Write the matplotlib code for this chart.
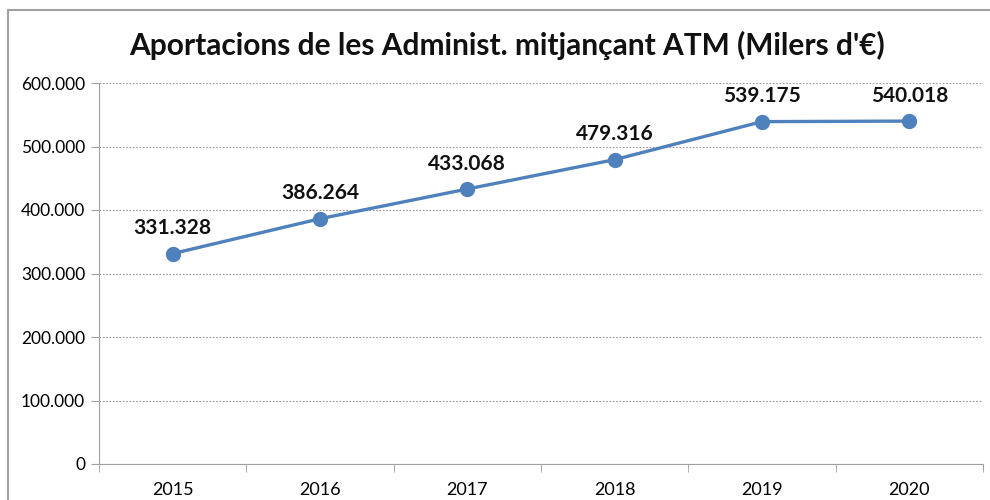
import matplotlib
matplotlib.use("Agg")
import matplotlib.pyplot as plt
from matplotlib.patches import Rectangle
from matplotlib.ticker import FuncFormatter

years = ["2015", "2016", "2017", "2018", "2019", "2020"]
values = [331328, 386264, 433068, 479316, 539175, 540018]
labels = ["331.328", "386.264", "433.068", "479.316", "539.175", "540.018"]
yticks = [0, 100000, 200000, 300000, 400000, 500000, 600000]
title = "Aportacions de les Administ. mitjançant ATM (Milers d'€)"

plt.rcParams['font.family'] = ['Lato', 'DejaVu Sans']

fig = plt.figure(figsize=(9.9, 5.0), dpi=100)
fig.patch.set_facecolor("white")
# outer chart frame
fig.patches.append(Rectangle((8/990, -0.2), 1.2, 1.2 - 10/500,
                             transform=fig.transFigure, fill=False,
                             edgecolor="#a0a0a0", linewidth=1.5))

ax = fig.add_axes([99/990, 1 - 464/500, (983 - 99)/990, (464 - 83)/500])
x = list(range(len(years)))
ax.plot(x, values, color="#4F81BD", linewidth=2.4, marker="o",
        markersize=10, markerfacecolor="#4F81BD", markeredgecolor="#4F81BD",
        zorder=3, clip_on=False)
for xi, v, lab in zip(x, values, labels):
    ax.annotate(lab, (xi, v), xytext=(0, 11), textcoords="offset points",
                ha="center", va="bottom", fontsize=15, fontweight="bold",
                color="#111111")

ax.set_xlim(-0.5, len(years) - 0.5)
ax.set_ylim(0, 600000)
ax.set_yticks(yticks)
ax.yaxis.set_major_formatter(FuncFormatter(
    lambda v, p: "0" if v == 0 else f"{int(v):,}".replace(",", ".")))
ax.set_xticks(x)
ax.set_xticklabels(years)
ax.set_xticks([i - 0.5 for i in range(len(years) + 1)], minor=True)
ax.tick_params(axis="x", which="major", length=0, pad=13, labelsize=13)
ax.tick_params(axis="x", which="minor", length=6, color="#a0a0a0", direction="out")
ax.tick_params(axis="y", length=6, color="#a0a0a0", labelsize=12.5, pad=4)

ax.yaxis.grid(True, linestyle=(0, (1.5, 1.5)), color="#9a9a9a", linewidth=0.8)
ax.set_axisbelow(True)
for s in ["top", "right"]:
    ax.spines[s].set_visible(False)
ax.spines["left"].set_color("#a0a0a0")
ax.spines["bottom"].set_color("#a0a0a0")
ax.spines["right"].set_visible(True)
ax.spines["right"].set_color("#a0a0a0")
ax.spines["right"].set_bounds(-8000, 0)

fig.text(0.512, 1 - 45/500, title, ha="center", va="center",
         fontsize=21.5, fontweight="bold", color="#111111")

fig.savefig("out.png", dpi=100)
